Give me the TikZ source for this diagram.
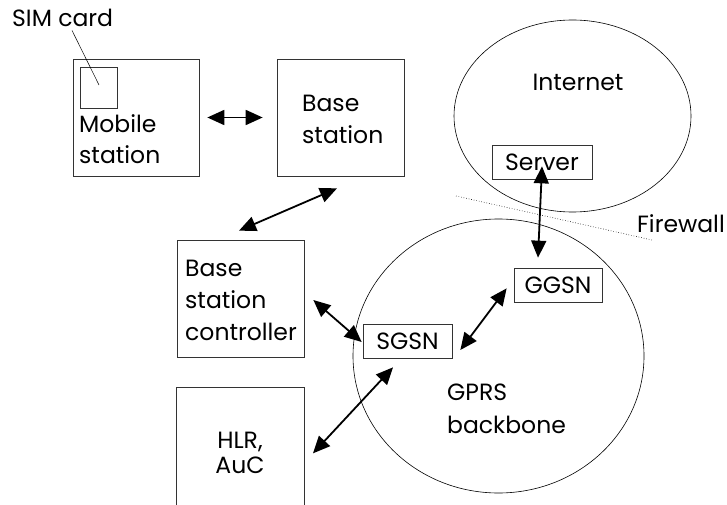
\documentclass[tikz,border=0pt]{standalone}
\usepackage{fontspec}
\setmainfont{Poppins}
\usetikzlibrary{arrows.meta}
\begin{document}
\begin{tikzpicture}[x=1pt,y=-1pt,
  box/.style={draw=black!80,line width=0.7pt,inner sep=0pt},
  arr/.style={line width=1.8pt,{Triangle[length=17pt,width=15pt]}-{Triangle[length=17pt,width=15pt]}},
  lbl/.style={font=\fontsize{23.5}{31}\selectfont,inner sep=0pt,anchor=base west},
  ell/.style={draw=black,line width=0.6pt}]
\useasboundingbox (0,0) rectangle (727,505);
% ellipses
\draw[ell] (572.5,116) ellipse [x radius=118.5,y radius=96];
\draw[ell] (498.5,356) ellipse [x radius=145.5,y radius=137];
% boxes
\node[box,minimum width=126pt,minimum height=117pt] (ms) at (136,117.5) {};
\node[box,minimum width=37pt,minimum height=41pt] (sim) at (98.5,87.5) {};
\node[box,minimum width=127pt,minimum height=117pt] (bs) at (340.5,117.5) {};
\node[box,minimum width=127pt,minimum height=117pt] (bsc) at (240.5,298.5) {};
\node[minimum width=127pt,minimum height=117pt,inner sep=0pt] (hlr) at (240.5,446.5) {};
\draw[black!80,line width=0.7pt] (hlr.south west) -- (hlr.north west) -- (hlr.north east) -- (hlr.south east);
\node[box,minimum width=89pt,minimum height=34pt,font=\fontsize{23.5}{31}\selectfont] (sgsn) at (407.5,341) {SGSN};
\node[box,minimum width=88pt,minimum height=34pt,font=\fontsize{23.5}{31}\selectfont] (ggsn) at (558,285) {GGSN};
\node[box,minimum width=100pt,minimum height=34pt,font=\fontsize{23.5}{31}\selectfont] (server) at (542,162) {Server};
% texts
\node[lbl] (simlbl) at (12,27) {SIM card};
\node[lbl] (mst1) at (79,133) {Mobile};
\node[lbl] (mst2) at (79,164) {station};
\node[lbl] (bst1) at (302,112) {Base};
\node[lbl] (bst2) at (302,143) {station};
\node[lbl] (bsct1) at (185,276) {Base};
\node[lbl] (bsct2) at (185,308) {station};
\node[lbl] (bsct3) at (185,340) {controller};
\node[lbl,anchor=base] (hlrt1) at (240,448) {HLR,};
\node[lbl,anchor=base] (hlrt2) at (240,473) {AuC};
\node[lbl,anchor=base] (inet) at (578,91) {Internet};
\node[lbl] (gprs1) at (447,400) {GPRS};
\node[lbl] (gprs2) at (447,433) {backbone};
\node[lbl,anchor=base east] (fwl) at (725,232) {Firewall};
% SIM leader
\coordinate (simtip) at (99,85);
\draw[line width=0.5pt] ([shift={(60,3)}]simlbl.south west) -- (simtip);
% firewall
\coordinate (fw1) at (456,196);
\coordinate (fw2) at (652,240);
\draw[dotted,line width=0.6pt] (fw1) -- (fw2);
% arrows
\draw[arr,shorten <=8pt,shorten >=14pt] (ms) -- (bs);
\draw[arr] ([shift={(-3.5,12)}]bs.south) -- ([shift={(-1.5,-9)}]bsc.north);
\draw[arr] ([shift={(9,1.5)}]bsc.east) -- ([shift={(-1,1)}]sgsn.west);
\draw[arr] ([shift={(-94.5,95)}]sgsn.south) -- ([shift={(-14.5,9)}]sgsn.south);
\draw[arr] ([shift={(8,9)}]sgsn.east) -- ([shift={(-7,-14)}]ggsn.south west);
\draw[arr] ([yshift=13]server.south) -- ([shift={(-20,-10)}]ggsn.north);
\end{tikzpicture}
\end{document}
